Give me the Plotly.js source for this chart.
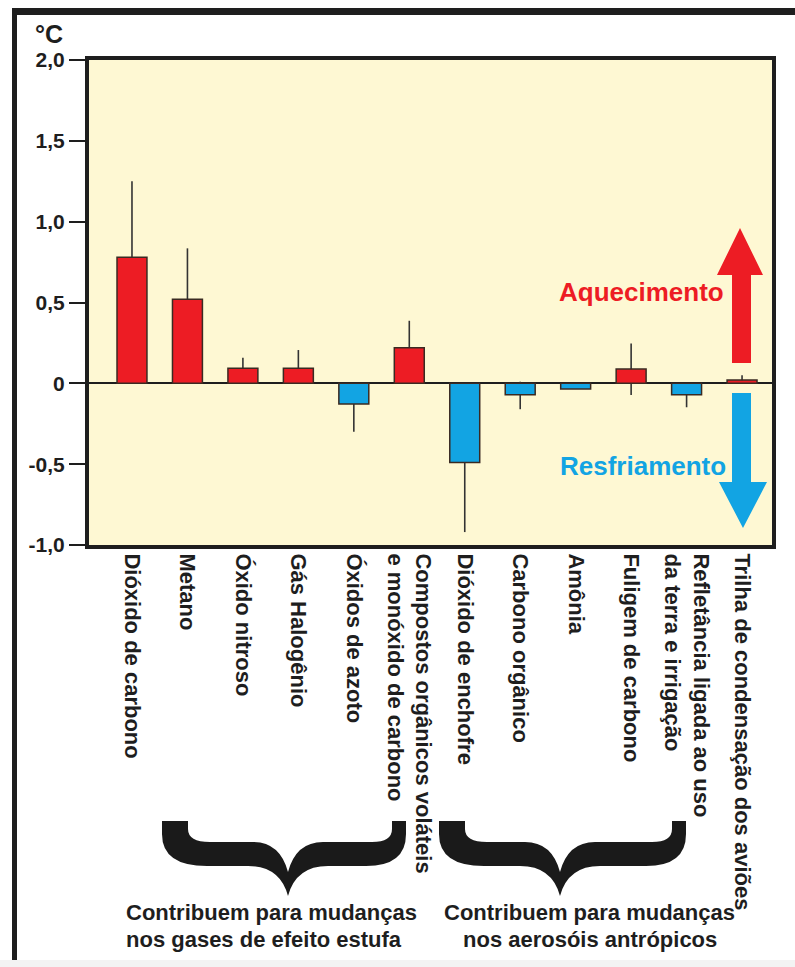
<!DOCTYPE html>
<html><head><meta charset="utf-8">
<script src="https://cdn.plot.ly/plotly-3.0.1.min.js"></script>
<style>html,body{margin:0;padding:0;background:#fff;}#chart{width:795px;height:967px;}</style>
</head><body><div id="chart"></div>
<script>
// ---- data ----
const categories = [
  "Dióxido de carbono",
  "Metano",
  "Óxido nitroso",
  "Gás Halogênio",
  "Óxidos de azoto",
  "Compostos orgânicos voláteis<br>e monóxido de carbono",
  "Dióxido de enchofre",
  "Carbono orgânico",
  "Amônia",
  "Fuligem de carbono",
  "Refletância ligada ao uso<br>da terra e irrigação",
  "Trilha de condensação dos aviões"
];
const values     = [0.78, 0.52, 0.093, 0.093, -0.128, 0.22, -0.49, -0.07, -0.035, 0.088, -0.07, 0.02];
const errorPlus  = [0.47, 0.315, 0.065, 0.113, 0.12, 0.167, 0.43, 0.08, 0, 0.159, 0.07, 0.03];
const errorMinus = [0.47, 0.315, 0.065, 0.09, 0.172, 0.167, 0.43, 0.09, 0, 0.16, 0.078, 0.02];
const yTickValues = [2, 1.5, 1, 0.5, 0, -0.5, -1];
const yTickLabels = ["2,0", "1,5", "1,0", "0,5", "0", "-0,5", "-1,0"];
const yUnit = "°C";
const warmLabel = "Aquecimento";
const coolLabel = "Resfriamento";
const groupLines = [
  ["Contribuem para mudanças", "nos gases de efeito estufa"],
  ["Contribuem para mudanças", "nos aerosóis antrópicos"]
];

// ---- styling / geometry helpers ----
const RED = "#ED1C24", BLUE = "#12A4E3", INK = "#1e1e1e";
const W = 795, H = 967, L = 89, R = 772, T = 60, B = 545;
const FONT = "Liberation Sans, Arial, Helvetica, sans-serif";
function px(x) { return (x - L) / (R - L); }
function py(y) { return (B - y) / (B - T); }
function path(cmds) {
  let out = "", nums = [];
  const flush = () => { for (let i = 0; i < nums.length; i += 2) out += px(nums[i]).toFixed(5) + "," + py(nums[i + 1]).toFixed(5) + " "; nums = []; };
  cmds.forEach(c => { if (typeof c === "string") { flush(); out += c + " "; } else nums.push(c); });
  flush();
  return out.trim();
}
function brace(x0, x1, xm) {
  const la = 26, ra = 14, top = 821, bt = 842, bb = 866, notch = 872, tip = 896;
  return path(["M", x0, top, "L", x0 + la, top, "L", x0 + la, 829,
    "Q", x0 + la, bt, x0 + la + 22, bt, "L", xm - 35, bt,
    "Q", xm - 8, bt, xm, notch, "Q", xm + 8, bt, xm + 35, bt,
    "L", x1 - ra - 20, bt, "Q", x1 - ra, bt, x1 - ra, 829, "L", x1 - ra, top,
    "L", x1, top, "L", x1, 834, "Q", x1, bb, x1 - 40, bb, "L", xm + 40, bb,
    "Q", xm + 8, bb, xm, tip, "Q", xm - 8, bb, xm - 40, bb,
    "L", x0 + 45, bb, "Q", x0, bb, x0, 834, "Z"]);
}
function rect(x0, y0, x1, y1, color) {
  return { type: "rect", xref: "paper", yref: "paper", x0: px(x0), x1: px(x1), y0: py(y1), y1: py(y0),
    fillcolor: color, line: { width: 0 }, layer: "above" };
}
function shapePath(p, color) {
  return { type: "path", xref: "paper", yref: "paper", path: p, fillcolor: color, line: { width: 0 }, layer: "above" };
}

const idx = categories.map((_, i) => i);
const colors = values.map(v => v >= 0 ? RED : BLUE);

const errTrace = {
  type: "bar", x: idx, y: values, width: 0.54,
  marker: { color: "rgba(0,0,0,0)", line: { width: 0 } },
  error_y: { type: "data", symmetric: false, array: errorPlus, arrayminus: errorMinus,
    color: "#333", thickness: 1.6, width: 0 },
  hoverinfo: "skip", showlegend: false
};
const barTrace = {
  type: "bar", x: idx, y: values, width: 0.54,
  marker: { color: colors, line: { color: "#3a2a22", width: 1.5 } },
  hoverinfo: "skip", showlegend: false
};

const shapes = [
  rect(12, 8, 17, 967, INK),
  rect(12, 8, 795, 15, INK),
  rect(0, 960, 795, 967, "#f3f3f3"),
  shapePath(path(["M", 732, 363, "L", 751, 363, "L", 751, 275, "L", 763, 275, "L", 740, 228, "L", 717, 275, "L", 732, 275, "Z"]), RED),
  shapePath(path(["M", 732, 393, "L", 751, 393, "L", 751, 482, "L", 767, 482, "L", 743, 528, "L", 719, 482, "L", 732, 482, "Z"]), BLUE),
  shapePath(brace(162, 406, 288), "#1a1a1a"),
  shapePath(brace(439, 686, 560), "#1a1a1a")
];

function ann(text, x, y, size, color, xanchor, weight) {
  return { text: text, xref: "paper", yref: "paper", x: px(x), y: py(y), xanchor: xanchor, yanchor: "middle",
    showarrow: false, font: { family: FONT, size: size, color: color, weight: weight } };
}
const annotations = [
  ann(yUnit, 33, 34, 25, INK, "left", 700),
  ann(warmLabel, 726, 292, 26, RED, "right", 700),
  ann(coolLabel, 728, 466, 26, BLUE, "right", 700),
  ann(groupLines[0][0], 124, 912, 22, INK, "left", 700),
  ann(groupLines[0][1], 124, 939, 22, INK, "left", 700),
  ann(groupLines[1][0], 589, 912, 22, INK, "center", 700),
  ann(groupLines[1][1], 590, 939, 22, INK, "center", 700)
];

const layout = {
  width: W, height: H,
  margin: { l: L, r: W - R, t: T, b: H - B, pad: 0 },
  paper_bgcolor: "#ffffff", plot_bgcolor: "#FEF8D3",
  barmode: "overlay", showlegend: false,
  font: { family: FONT, color: INK },
  xaxis: {
    range: [-0.775, 11.54], tickmode: "array", tickvals: idx, ticktext: categories,
    tickangle: 90, ticks: "", showgrid: false, zeroline: false,
    showline: true, mirror: true, linewidth: 4, linecolor: INK,
    tickfont: { family: FONT, size: 22, color: INK, weight: 700 }, fixedrange: true
  },
  yaxis: {
    range: [-1, 2], tickmode: "array", tickvals: yTickValues, ticktext: yTickLabels,
    ticks: "outside", ticklen: 16, tickwidth: 2, tickcolor: INK,
    showgrid: false, zeroline: true, zerolinecolor: INK, zerolinewidth: 2,
    showline: true, mirror: true, linewidth: 4, linecolor: INK,
    tickfont: { family: FONT, size: 21, color: INK, weight: 700 }, fixedrange: true
  },
  shapes: shapes,
  annotations: annotations
};

Plotly.newPlot("chart", [errTrace, barTrace], layout, { displayModeBar: false, staticPlot: true });
</script>
</body></html>
